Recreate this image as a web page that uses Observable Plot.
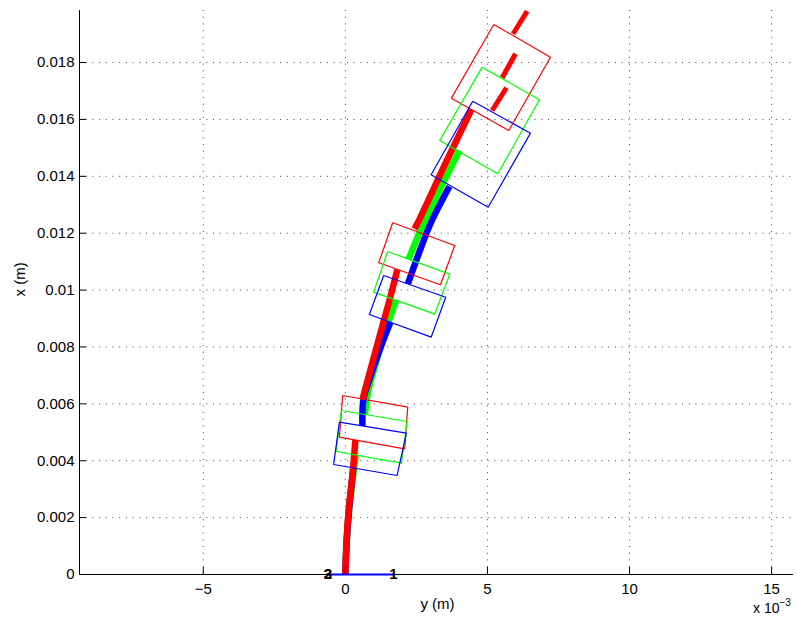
<!DOCTYPE html>
<html><head><meta charset="utf-8">
<script src="https://cdn.jsdelivr.net/npm/d3@7"></script>
<script src="https://cdn.jsdelivr.net/npm/@observablehq/plot@0.6"></script>
<style>body{margin:0;background:#fff} #chart{position:absolute;left:0;top:0}</style>
</head><body><div id="chart"></div>
<script>
// All coordinates in units of 1e-3 m
const xDomain = [-9.356, 15.77];
const yDomain = [0, 19.83];
const xTicks = [-5, 0, 5, 10, 15];
const xTickLabels = ["−5", "0", "5", "10", "15"];
const yTicks = [0, 2, 4, 6, 8, 10, 12, 14, 16, 18];
const yTickLabels = ["0", "0.002", "0.004", "0.006", "0.008", "0.01", "0.012", "0.014", "0.016", "0.018"];

// Trajectories (visible pieces)
const redPath = [
  [[0, 0], [0.04, 1.2], [0.12, 2.3], [0.264, 3.657], [0.352, 4.73]],
  [[0.60, 6.15], [0.78, 6.821], [1.162, 8.228], [1.55, 9.634], [1.831, 10.72]],
  [[2.43, 12.15], [2.57, 12.412], [3.521, 14.451], [4.437, 16.35]]
];
const redDashes = [
  [[5.165, 16.315], [5.669, 17.113]],
  [[5.518, 17.465], [5.986, 18.309]],
  [[5.905, 19.012], [6.398, 19.807]]
];
const greenPath = [
  [[0, 0], [0.05, 1.2], [0.14, 2.3], [0.30, 3.657], [0.37, 4.22]],
  [[0.687, 5.626], [0.81, 6.47], [1.05, 7.349], [1.30, 8.228], [1.53, 8.931], [1.78, 9.634]],
  [[2.218, 11.076], [2.782, 12.412], [4.014, 14.909]]
];
const bluePath = [
  [[0, 0], [0.05, 1.2], [0.13, 2.3], [0.282, 3.762]],
  [[0.599, 5.221], [0.64, 6.188], [0.86, 6.9], [1.10, 7.6], [1.33, 8.228], [1.58, 8.861]],
  [[2.201, 10.221], [2.623, 11.392], [3.028, 12.412], [3.662, 13.643]]
];

// Robot bodies (corners)
const redBoxes = [
  [[-0.095, 6.294], [2.194, 5.883], [2.088, 4.420], [-0.211, 4.828]],
  [[1.665, 12.366], [3.849, 11.568], [3.345, 10.186], [1.173, 10.960]],
  [[5.222, 19.339], [7.218, 18.189], [5.750, 15.612], [3.732, 16.748]]
];
const greenBoxes = [
  [[-0.141, 5.767], [2.173, 5.380], [1.972, 3.914], [-0.327, 4.325]],
  [[1.489, 11.357], [3.673, 10.559], [3.144, 9.153], [0.996, 9.926]],
  [[4.813, 17.838], [6.831, 16.691], [5.363, 14.089], [3.320, 15.260]]
];
const blueBoxes = [
  [[-0.211, 5.355], [2.148, 4.968], [1.820, 3.481], [-0.412, 3.868]],
  [[1.349, 10.513], [3.532, 9.750], [3.018, 8.344], [0.845, 9.142]],
  [[4.482, 16.642], [6.514, 15.517], [5.025, 12.915], [3.018, 14.054]]
];

// Base points
const baseLabels = ["2", "3", "1"];
const baseX = [-0.61, -0.61, 1.69];
const baseY = [0, 0, 0];
const baseLine = [[-0.61, 0], [1.69, 0]];

function flatten(segs, prefix, close) {
  const rows = [];
  segs.forEach((seg, i) => {
    const pts = close ? [...seg, seg[0]] : seg;
    pts.forEach(([x, y]) => rows.push({z: prefix + i, x, y}));
  });
  return rows;
}

const lineOpts = (color, w, curve = "linear") => ({x: "x", y: "y", z: "z", stroke: color, strokeWidth: w, strokeLinecap: "butt", strokeLinejoin: "round", curve, clip: true});

const chart = Plot.plot({
  width: 797, height: 628,
  marginLeft: 79, marginRight: 4, marginTop: 10, marginBottom: 54,
  x: {domain: xDomain},
  y: {domain: yDomain},
  style: {fontFamily: "'Liberation Sans', Arial, sans-serif", fontSize: "15px", background: "white", color: "black"},
  marks: [
    Plot.gridX(xTicks, {stroke: "#444", strokeOpacity: 1, strokeDasharray: "1,5.7"}),
    Plot.gridY(yTicks, {stroke: "#444", strokeOpacity: 1, strokeDasharray: "1,5.7"}),
    Plot.line(flatten(greenPath, "g", false), lineOpts("#00ff00", 6.5, "catmull-rom")),
    Plot.line(flatten(bluePath, "b", false), lineOpts("#0000ff", 6.5, "catmull-rom")),
    Plot.line(flatten(redPath, "r", false), lineOpts("#ff0000", 6.5, "catmull-rom")),
    Plot.line(flatten(redDashes, "d", false), lineOpts("#ff0000", 5)),
    Plot.line(flatten(redBoxes, "rb", true), lineOpts("#ff0000", 1.2)),
    Plot.line(flatten(greenBoxes, "gb", true), lineOpts("#00ff00", 1.2)),
    Plot.line(flatten(blueBoxes, "bb", true), lineOpts("#0000ff", 1.2)),
    Plot.ruleY([yDomain[0]], {stroke: "black", strokeWidth: 1}),
    Plot.ruleX([xDomain[0]], {stroke: "black", strokeWidth: 1}),
    Plot.line(baseLine, {x: d => d[0], y: d => d[1], stroke: "#0000ff", strokeWidth: 2}),
    Plot.text(baseLabels, {x: (d, i) => baseX[i], y: (d, i) => baseY[i], text: d => d, fontWeight: "bold", fontSize: 15, fill: "black"}),
    // axis ticks (inward)
    Plot.axisX(xTicks, {tickSize: -7, tickFormat: () => "", label: null}),
    Plot.axisY(yTicks, {tickSize: -7, tickFormat: () => "", label: null}),
    Plot.axisX(xTicks, {tickSize: 0, tickPadding: 9, tickFormat: d => xTickLabels[xTicks.indexOf(d)], label: null}),
    Plot.axisY(yTicks, {tickSize: 0, tickPadding: 5, tickFormat: d => yTickLabels[yTicks.indexOf(d)], label: null}),
    Plot.text(["y (m)"], {frameAnchor: "bottom", dx: 1, dy: 34, fontSize: 15}),
    Plot.text(["x (m)"], {frameAnchor: "left", dx: -59, dy: 4, rotate: -90, fontSize: 15}),
    Plot.text(["x 10"], {frameAnchor: "bottom-right", textAnchor: "end", dx: -14, dy: 38, fontSize: 14}),
    Plot.text(["−3"], {frameAnchor: "bottom-right", textAnchor: "start", dx: -14, dy: 31, fontSize: 10})
  ]
});
document.getElementById("chart").appendChild(chart);
</script>
</body></html>
